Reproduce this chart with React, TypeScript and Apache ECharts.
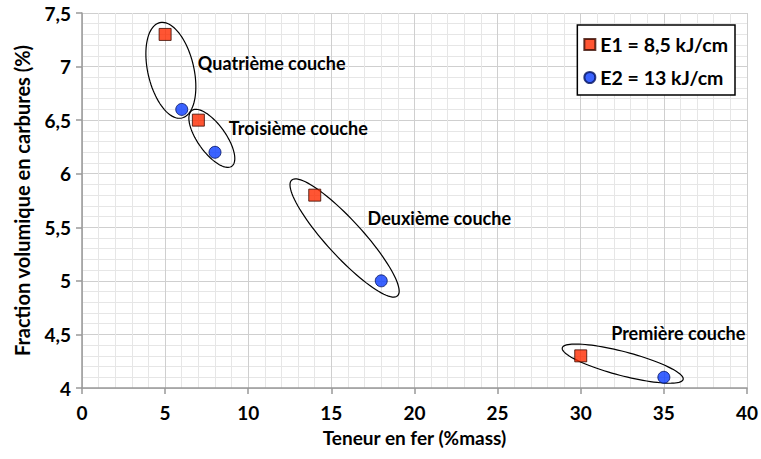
import React, { useEffect, useRef } from "react";
import * as echarts from "echarts";

const e1Points: number[][] = [[5, 7.3], [7, 6.5], [14, 5.8], [30, 4.3]];
const e2Points: number[][] = [[6, 6.6], [8, 6.2], [18, 5.0], [35, 4.1]];
const seriesNames = ["E1 = 8,5 kJ/cm", "E2 = 13 kJ/cm"];
// ellipse annotations: [x1, y1, x2, y2] ends of the major axis (data units)
const ellipseEnds: number[][] = [
  [4.68, 7.41, 6.01, 6.52],
  [6.61, 6.59, 9.01, 6.07],
  [12.61, 5.94, 18.98, 4.86],
  [28.89, 4.375, 36.16, 4.08],
];
const ellipseHalfWidths = [23, 14, 18, 12];
const labelTexts = ["Quatrième couche", "Troisième couche", "Deuxième couche", "Première couche"];
const labelAnchors: number[][] = [[6.97, 7.03], [8.83, 6.43], [17.18, 5.59], [31.83, 4.51]];

const FONT = "Lato, 'Open Sans', sans-serif";

export default function App() {
  const ref = useRef<HTMLDivElement>(null);
  useEffect(() => {
    const chart = echarts.init(ref.current!, null, { renderer: "svg" });
    chart.setOption({
      animation: false,
      textStyle: { fontFamily: FONT },
      grid: { left: 82, top: 13, right: 13, bottom: 71 },
      legend: {
        orient: "vertical",
        right: 26,
        top: 25,
        data: [
          { name: seriesNames[0], icon: "rect" },
          { name: seriesNames[1], icon: "circle" },
        ],
        itemWidth: 11,
        itemHeight: 11,
        itemGap: 12,
        itemTextGap: 7,
        padding: [9, 7, 7, 6],
        borderColor: "#000",
        borderWidth: 1.5,
        borderRadius: 0,
        backgroundColor: "#fff",
        textStyle: { fontSize: 19.5, lineHeight: 21, fontWeight: "bold", color: "#000", fontFamily: FONT },
      },
      xAxis: {
        type: "value",
        min: 0,
        max: 40,
        interval: 5,
        name: "Teneur en fer (%mass)",
        nameLocation: "middle",
        nameGap: 40,
        nameTextStyle: { fontSize: 19, fontWeight: "bold", color: "#000" },
        axisLine: { show: true, lineStyle: { color: "#999", width: 1.5 } },
        axisTick: { show: true, length: 6, lineStyle: { color: "#999", width: 1.5 } },
        axisLabel: { fontSize: 19, fontWeight: "bold", color: "#000", margin: 15 },
        splitLine: { show: true, lineStyle: { color: "#cfcfcf", width: 1 } },
        minorTick: { show: false, splitNumber: 5 },
        minorSplitLine: { show: true, lineStyle: { color: "#e6e6e6", width: 1 } },
      },
      yAxis: {
        type: "value",
        min: 4,
        max: 7.5,
        interval: 0.5,
        name: "Fraction volumique en carbures (%)",
        nameLocation: "middle",
        nameGap: 50,
        nameTextStyle: { fontSize: 20, fontWeight: "bold", color: "#000" },
        axisLine: { show: true, lineStyle: { color: "#999", width: 1.5 } },
        axisTick: { show: true, length: 6, lineStyle: { color: "#999", width: 1.5 } },
        axisLabel: {
          fontSize: 19,
          fontWeight: "bold",
          color: "#000",
          margin: 11,
          formatter: (v: number) => String(v).replace(".", ","),
        },
        splitLine: { show: true, lineStyle: { color: "#cfcfcf", width: 1 } },
        minorTick: { show: false, splitNumber: 5 },
        minorSplitLine: { show: true, lineStyle: { color: "#e6e6e6", width: 1 } },
      },
      series: [
        {
          type: "custom",
          silent: true,
          z: 2,
          data: ellipseEnds.map((e, i) => [...e, ellipseHalfWidths[i]]),
          encode: { x: [0, 2], y: [1, 3] },
          renderItem: (params: any, api: any) => {
            const p1 = api.coord([api.value(0), api.value(1)]);
            const p2 = api.coord([api.value(2), api.value(3)]);
            const b = api.value(4);
            const cx = (p1[0] + p2[0]) / 2;
            const cy = (p1[1] + p2[1]) / 2;
            const dx = p2[0] - p1[0];
            const dy = p2[1] - p1[1];
            const a = Math.sqrt(dx * dx + dy * dy) / 2;
            const ang = Math.atan2(dy, dx);
            const pts: number[][] = [];
            for (let k = 0; k < 96; k++) {
              const t = (k / 96) * Math.PI * 2;
              const ex = a * Math.cos(t);
              const ey = b * Math.sin(t);
              pts.push([
                cx + ex * Math.cos(ang) - ey * Math.sin(ang),
                cy + ex * Math.sin(ang) + ey * Math.cos(ang),
              ]);
            }
            return {
              type: "polygon",
              shape: { points: pts },
              style: { fill: "none", stroke: "#000", lineWidth: 1.2 },
            };
          },
        },
        {
          type: "custom",
          silent: true,
          z: 3,
          data: labelAnchors,
          renderItem: (params: any, api: any) => {
            const p = api.coord([api.value(0), api.value(1)]);
            return {
              type: "text",
              x: p[0],
              y: p[1],
              style: {
                text: labelTexts[params.dataIndex],
                fontSize: 18,
                fontWeight: "bold",
                fontFamily: FONT,
                fill: "#000",
                align: "left",
                verticalAlign: "middle",
              },
            };
          },
        },
        {
          name: seriesNames[0],
          type: "scatter",
          z: 5,
          symbol: "rect",
          symbolSize: 12,
          data: e1Points,
          itemStyle: { color: "#ff2a00", borderColor: "#3a0a00", borderWidth: 1 },
        },
        {
          name: seriesNames[1],
          type: "scatter",
          z: 5,
          symbol: "circle",
          symbolSize: 12,
          data: e2Points,
          itemStyle: { color: "#0a3cff", borderColor: "#001060", borderWidth: 1 },
        },
      ],
    });
    return () => chart.dispose();
  }, []);
  return <div ref={ref} style={{ width: 761, height: 459, position: "absolute", left: 0, top: 0 }} />;
}
